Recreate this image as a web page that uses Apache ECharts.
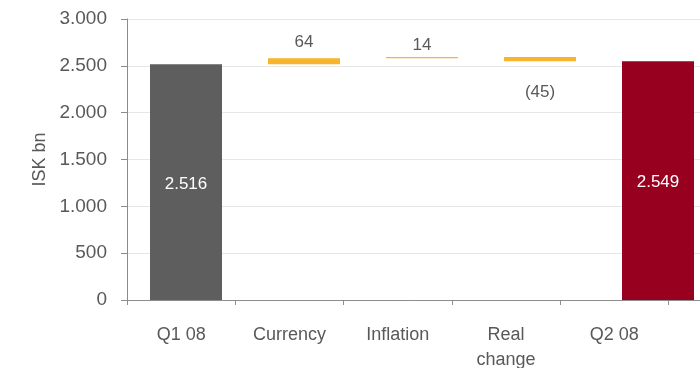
<!DOCTYPE html>
<html>
<head>
<meta charset="utf-8">
<script src="https://cdn.jsdelivr.net/npm/echarts@6/dist/echarts.min.js"></script>
<style>
  html, body { margin: 0; padding: 0; background: #fff; }
  #chart { width: 700px; height: 368px; }
</style>
</head>
<body>
<div id="chart"></div>
<script>
// Waterfall: Q1 08 level, changes by driver, Q2 08 level (ISK bn)
const categories = ['Q1 08', 'Currency', 'Inflation', 'Real\nchange', 'Q2 08'];
// Level bars (start and end), null where the column is a change
const levels = [2516, null, null, null, 2549];
// Changes between the two levels, null where the column is a level
const changes = [null, 64, 14, -45, null];
const yTicks = { min: 0, max: 3000, step: 500 };

const TEXT = '#595959';
const FONT = "'Liberation Sans', Arial, sans-serif";

// Build the invisible base and the visible segment for each column
const base = [];
const span = [];
let running = 0;
categories.forEach((c, i) => {
  if (levels[i] !== null) {
    base.push(0);
    span.push(levels[i]);
    running = levels[i];
  } else {
    const d = changes[i];
    const next = running + d;
    base.push(Math.min(running, next));
    span.push(Math.abs(d));
    running = next;
  }
});

const fmtThousands = v => String(Math.round(v)).replace(/\B(?=(\d{3})+(?!\d))/g, '.');
const fmtChange = v => v < 0 ? '(' + fmtThousands(-v) + ')' : fmtThousands(v);

const lastIdx = categories.length - 1;
const colorFor = i => i === 0 ? '#5e5e5e' : (i === lastIdx ? '#98001f' : '#f8b42a');
const changeLabelDist = { 1: 8, 2: 3, 3: 23 };

const spanData = span.map((v, i) => {
  const isLevel = levels[i] !== null;
  const item = { value: v, itemStyle: { color: colorFor(i) } };
  if (isLevel) {
    item.label = { show: true, position: 'inside', color: '#ffffff', offset: [0, 2],
      formatter: () => fmtThousands(levels[i]) };
  } else {
    item.label = { show: true, position: changes[i] < 0 ? 'bottom' : 'top',
      distance: changeLabelDist[i], color: TEXT,
      formatter: () => fmtChange(changes[i]) };
  }
  return item;
});

const chart = echarts.init(document.getElementById('chart'), null, { renderer: 'canvas' });
chart.setOption({
  animation: false,
  textStyle: { fontFamily: FONT },
  grid: [
    // bar columns: a slightly wider slot scale than the label axis below
    { left: 127, top: 19, width: 590, height: 281, outerBoundsMode: 'none', containLabel: false },
    { left: 127, top: 19, width: 541.5, height: 281, outerBoundsMode: 'none', containLabel: false }
  ],
  xAxis: [
    {
      gridIndex: 0, type: 'category', data: categories,
      axisLine: { show: true, lineStyle: { color: '#8c8c8c', width: 1 } },
      axisTick: { show: false }, axisLabel: { show: false }
    },
    {
      gridIndex: 1, type: 'category', data: categories,
      axisLine: { show: false },
      axisTick: { show: true, length: 5, lineStyle: { color: '#8c8c8c' } },
      axisLabel: { color: TEXT, fontSize: 18, margin: 23, lineHeight: 25, fontFamily: FONT }
    }
  ],
  yAxis: [
    {
      gridIndex: 0, type: 'value', min: yTicks.min, max: yTicks.max, interval: yTicks.step,
      name: 'ISK bn', nameLocation: 'middle', nameGap: 72, nameRotate: 90,
      nameTextStyle: { color: TEXT, fontSize: 18, fontFamily: FONT },
      axisLine: { show: true, lineStyle: { color: '#8c8c8c' } },
      axisTick: { show: true, length: 6, lineStyle: { color: '#8c8c8c' } },
      axisLabel: { color: TEXT, fontSize: 19, margin: 20, fontFamily: FONT, formatter: fmtThousands },
      splitLine: { show: true, lineStyle: { color: '#e6e6e6', width: 1 } }
    },
    {
      gridIndex: 1, type: 'value', min: yTicks.min, max: yTicks.max, show: false
    }
  ],
  series: [
    {
      type: 'bar', stack: 'wf', xAxisIndex: 0, yAxisIndex: 0, barWidth: 72,
      data: base, itemStyle: { color: 'transparent' }, silent: true
    },
    {
      type: 'bar', stack: 'wf', xAxisIndex: 0, yAxisIndex: 0, barWidth: 72,
      data: spanData,
      label: { fontSize: 17, fontFamily: FONT }
    }
  ]
});
</script>
</body>
</html>
